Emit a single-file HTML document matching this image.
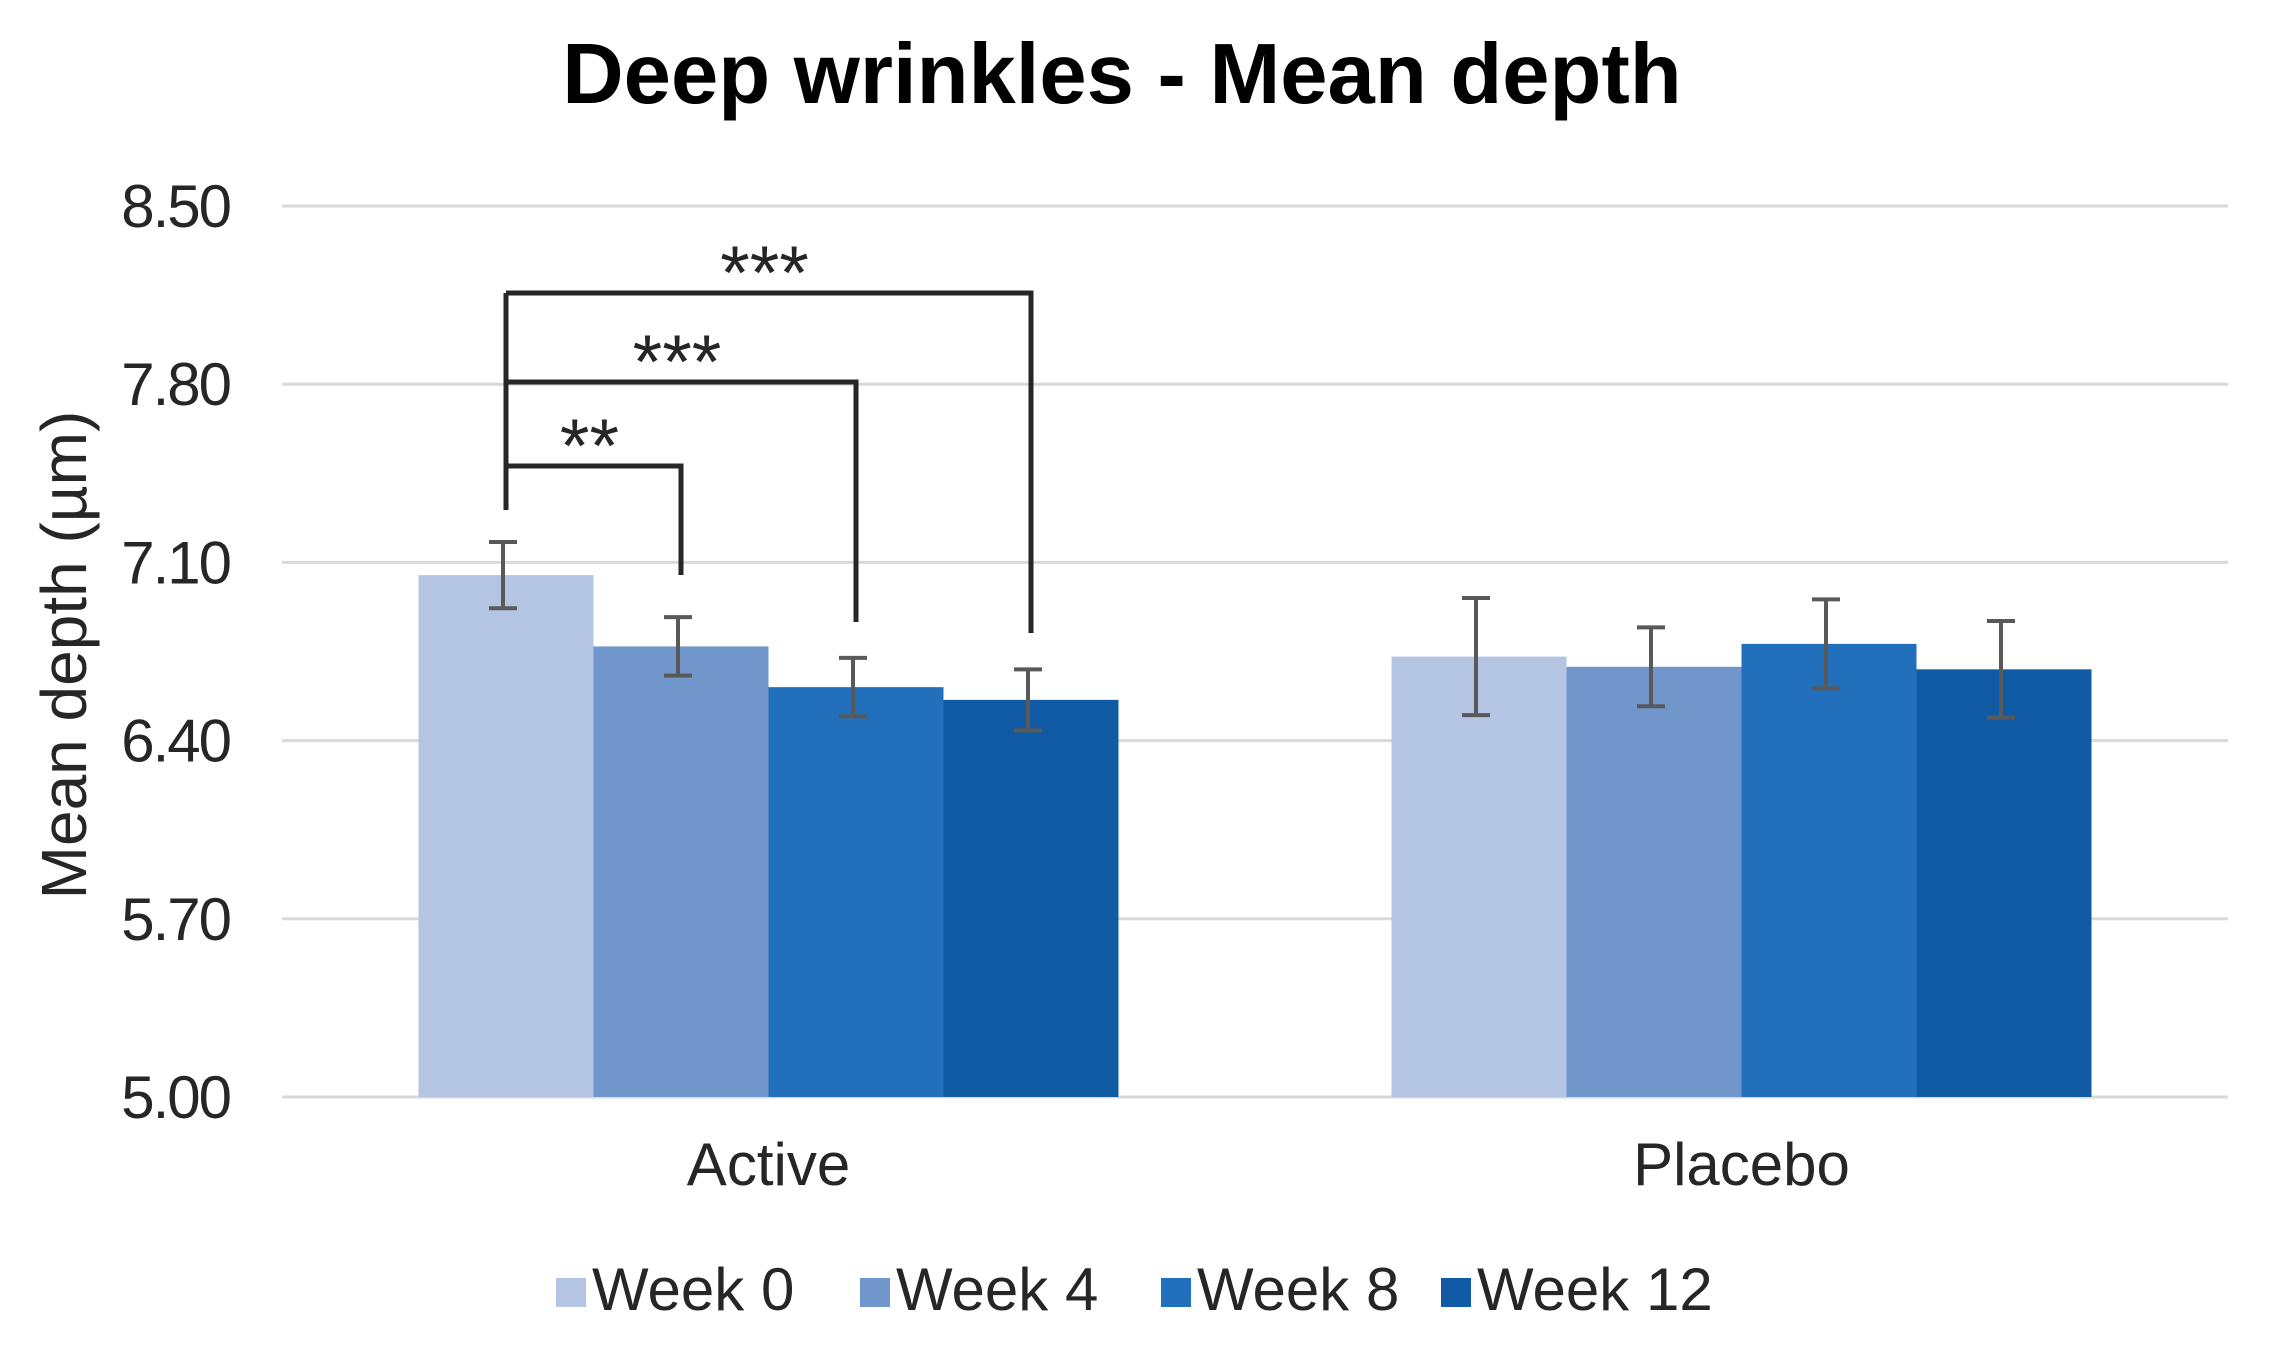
<!DOCTYPE html>
<html><head><meta charset="utf-8"><style>
html,body{margin:0;padding:0;background:#fff;}
svg{display:block;font-family:"Liberation Sans",Arial,sans-serif;}
</style></head><body>
<svg id="chart" width="2274" height="1349" viewBox="0 0 2274 1349">
<text x="1122" y="103" text-anchor="middle" font-size="85" font-weight="bold" fill="#000">Deep wrinkles - Mean depth</text>
<text transform="translate(86,655) rotate(-90)" text-anchor="middle" font-size="64" fill="#262626">Mean depth (µm)</text>
<g id="grid"></g>
<g id="yticks"></g>
<g id="bars"></g>
<g id="errs"></g>
<g id="xlabels"></g>
<g id="sig"></g>
<g id="legend"></g>
</svg>
<script>
const categories = ["Active", "Placebo"];
const seriesNames = ["Week 0", "Week 4", "Week 8", "Week 12"];
const week0 = [7.05, 6.73];
const week4 = [6.77, 6.69];
const week8 = [6.61, 6.78];
const week12 = [6.56, 6.68];
const err0 = [0.13, 0.23];
const err4 = [0.115, 0.155];
const err8 = [0.115, 0.175];
const err12 = [0.12, 0.19];
const yTicks = [5.00, 5.70, 6.40, 7.10, 7.80, 8.50];
const sigLabels = ["**", "***", "***"];
const sigTargets = [1, 2, 3];

const series = [week0, week4, week8, week12];
const errs = [err0, err4, err8, err12];
const colors = ["#b4c5e4", "#7096cc", "#2270bc", "#115aa4"];
const NS = "http://www.w3.org/2000/svg";
const X0 = 282, X1 = 2228, Y0 = 1097, Y1 = 206, VMIN = 5.0, VMAX = 8.5;
const y = v => Y0 - (v - VMIN) / (VMAX - VMIN) * (Y0 - Y1);
const catW = (X1 - X0) / categories.length;
const barW = 175;
const cx = i => X0 + catW * (i + 0.5);
const bx = (i, s) => cx(i) - barW * series.length / 2 + s * barW;
function mk(tag, attrs, parent, txt) {
  const e = document.createElementNS(NS, tag);
  for (const k in attrs) e.setAttribute(k, attrs[k]);
  if (txt !== undefined) e.textContent = txt;
  document.getElementById(parent).appendChild(e);
  return e;
}
yTicks.forEach(t => {
  const g = mk("line", {x1: X0, x2: X1, y1: y(t), y2: y(t), stroke: "#d9d9d9", "stroke-width": 3}, "grid");
  
  
  const l = mk("text", {x: 230, y: y(t) + 21, "text-anchor": "end", "font-size": 60, fill: "#262626", "letter-spacing": "-2"}, "yticks", t.toFixed(2));
  
  
});
categories.forEach((c, i) => {
  series.forEach((s, k) => {
    const r = mk("rect", {x: bx(i, k), y: y(s[i]), width: barW, height: Y0 - y(s[i]), fill: colors[k]}, "bars");
    
    
    const ex = bx(i, k) + barW / 2 - 3;
    const hi = y(s[i] + errs[k][i]), lo = y(s[i] - errs[k][i]);
    const e = mk("path", {d: `M${ex},${hi}V${lo}M${ex-14},${hi}H${ex+14}M${ex-14},${lo}H${ex+14}`, stroke: "#595959", "stroke-width": 4, fill: "none"}, "errs");
    
    
  });
  const t = mk("text", {x: cx(i), y: 1185, "text-anchor": "middle", "font-size": 60, fill: "#262626"}, "xlabels", c);
  
  
});
const bLevels = [466, 382, 293];
const bBottoms = [575, 622, 633];
const leftX = bx(0, 0) + barW / 2;
const lv = mk("line", {x1: leftX, x2: leftX, y1: bLevels[2], y2: 510, stroke: "#262626", "stroke-width": 5}, "sig");


sigTargets.forEach((tg, j) => {
  const rx = bx(0, tg) + barW / 2;
  const p = mk("path", {d: `M${leftX},${bLevels[j]}H${rx}V${bBottoms[j]}`, stroke: "#262626", "stroke-width": 5, fill: "none"}, "sig");
  
  
  const st = mk("text", {x: (leftX + rx) / 2 - 4, y: bLevels[j] + 6, "text-anchor": "middle", "font-size": 76, fill: "#262626"}, "sig", sigLabels[j]);
  
  
});
const legX = [556, 860, 1161, 1441];
seriesNames.forEach((n, k) => {
  const r = mk("rect", {x: legX[k], y: 1278, width: 30, height: 29, fill: colors[k]}, "legend");
  
  
  const t = mk("text", {x: legX[k] + 36, y: 1310, "font-size": 60, fill: "#262626"}, "legend", n);
  
  
});
</script>
</body></html>
